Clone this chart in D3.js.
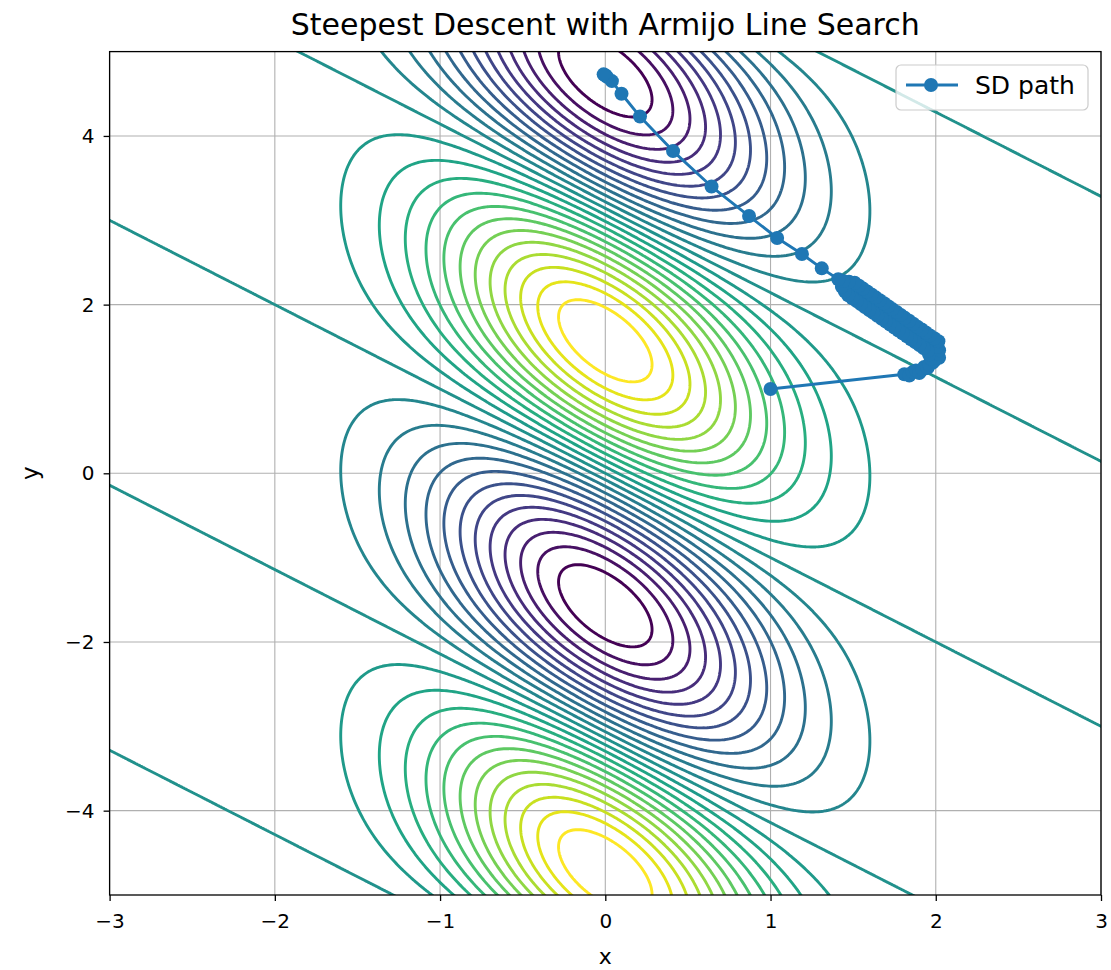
<!DOCTYPE html>
<html><head><meta charset="utf-8">
<script src="https://cdn.jsdelivr.net/npm/d3@7"></script>
<style>
body{margin:0;background:#fff}
svg{display:block}
text{font-family:"DejaVu Sans",sans-serif;fill:#000}
</style>
</head><body>
<svg id="chart" width="1111" height="970"></svg>
<script>
// ---------- data ----------
const titleText = "Steepest Descent with Armijo Line Search";
const xDomain = [-3, 3];
const yDomain = [-5, 5];
const xTicks = [-3, -2, -1, 0, 1, 2, 3];
const yTicks = [-4, -2, 0, 2, 4];
// contour levels of the objective f(x,y) = sin(x + y) * exp(-x^2)
const levels = [-0.923, -0.846, -0.769, -0.692, -0.615, -0.538, -0.462, -0.385, -0.308, -0.231, -0.154, -0.077,
  0, 0.077, 0.154, 0.231, 0.308, 0.385, 0.462, 0.538, 0.615, 0.692, 0.769, 0.846, 0.923];
const fieldAmplitude = 1.0;
const fieldGaussWidth = 1.0;
// steepest-descent iterates
const pathX = [1.00, 1.81, 1.84, 1.86, 1.88, 1.90, 1.93, 1.92, 1.95, 1.98, 1.96, 1.99, 2.02, 1.97, 2.01, 2.02, 1.96, 2.01,
  2.016, 1.951, 1.991, 1.926, 1.965, 1.901, 1.940, 1.875, 1.915, 1.850, 1.889, 1.825,
  1.864, 1.799, 1.839, 1.774, 1.813, 1.749, 1.788, 1.723, 1.763, 1.698, 1.737, 1.673,
  1.712, 1.647, 1.687, 1.622, 1.661, 1.597, 1.636, 1.571, 1.611, 1.546, 1.585, 1.521,
  1.560, 1.495, 1.535, 1.470, 1.509, 1.450, 1.475, 1.432, 1.440, 1.410,
  1.31, 1.19, 1.04, 0.87, 0.643, 0.41, 0.21, 0.098, 0.04, 0.01, 0.0, -0.01];
const pathY = [1.00, 1.175, 1.16, 1.20, 1.22, 1.19, 1.26, 1.23, 1.25, 1.31, 1.29, 1.33, 1.37, 1.36, 1.42, 1.46, 1.41, 1.50,
  1.566, 1.451, 1.601, 1.486, 1.635, 1.521, 1.670, 1.555, 1.705, 1.590, 1.739, 1.625,
  1.774, 1.659, 1.809, 1.694, 1.843, 1.729, 1.878, 1.763, 1.913, 1.798, 1.947, 1.833,
  1.982, 1.867, 2.017, 1.902, 2.051, 1.937, 2.086, 1.971, 2.121, 2.006, 2.155, 2.041,
  2.190, 2.075, 2.225, 2.110, 2.259, 2.158, 2.272, 2.212, 2.280, 2.300,
  2.43, 2.60, 2.79, 3.05, 3.40, 3.82, 4.23, 4.50, 4.65, 4.70, 4.72, 4.73];
const seriesName = "SD path";

// ---------- layout ----------
const svg = d3.select("#chart");
const L = 109.6, R = 1101, T = 51.6, B = 895;
const x = d3.scaleLinear().domain(xDomain).range([L, R]);
const y = d3.scaleLinear().domain(yDomain).range([B, T]);

svg.append("defs").append("clipPath").attr("id", "plotclip")
  .append("rect").attr("x", L).attr("y", T).attr("width", R - L).attr("height", B - T);

// grid
const grid = svg.append("g");
xTicks.forEach(t => grid.append("line").attr("x1", x(t)).attr("x2", x(t)).attr("y1", T).attr("y2", B)
  .attr("stroke", "#b0b0b0").attr("stroke-width", 1.1));
yTicks.forEach(t => grid.append("line").attr("y1", y(t)).attr("y2", y(t)).attr("x1", L).attr("x2", R)
  .attr("stroke", "#b0b0b0").attr("stroke-width", 1.1));

// ---------- contour field ----------
const f = (px, py) => fieldAmplitude * Math.sin(px + py) * Math.exp(-(px * px) / fieldGaussWidth);
const step = 0.015;
const gx0 = -3.06, gy0 = -5.06;
const nx = Math.round(6.12 / step) + 1, ny = Math.round(10.12 / step) + 1;
const values = new Float64Array(nx * ny);
for (let j = 0; j < ny; j++) {
  const yy = gy0 + j * step;
  for (let i = 0; i < nx; i++) values[j * nx + i] = f(gx0 + i * step, yy);
}
const contours = d3.contours().size([nx, ny]).thresholds(levels)(values);
const proj = d3.geoTransform({
  point: function (cx, cy) {
    this.stream.point(x(gx0 + (cx - 0.5) * step), y(gy0 + (cy - 0.5) * step));
  }
});
const gpath = d3.geoPath(proj);
const lmin = d3.min(levels), lmax = d3.max(levels);
const cg = svg.append("g").attr("clip-path", "url(#plotclip)");
cg.selectAll("path").data(contours).join("path")
  .attr("d", gpath)
  .attr("fill", "none")
  .attr("stroke", d => d3.interpolateViridis((d.value - lmin) / (lmax - lmin)))
  .attr("stroke-width", 2.9)
  .attr("stroke-linejoin", "round");

// ---------- path ----------
const pts = pathX.map((v, i) => [v, pathY[i]]);
const blue = "#1f77b4";
const pg = svg.append("g").attr("clip-path", "url(#plotclip)");
pg.append("path").attr("d", d3.line().x(d => x(d[0])).y(d => y(d[1]))(pts))
  .attr("fill", "none").attr("stroke", blue).attr("stroke-width", 2.9).attr("stroke-linejoin", "round");
pg.selectAll("circle").data(pts).join("circle")
  .attr("cx", d => x(d[0])).attr("cy", d => y(d[1])).attr("r", 7).attr("fill", blue);

// ---------- axes ----------
const fmt = d => String(d).replace("-", "\u2212");
const xa = svg.append("g").attr("transform", `translate(0,${B})`)
  .call(d3.axisBottom(x).tickValues(xTicks).tickFormat(fmt).tickSize(6).tickPadding(13));
const ya = svg.append("g").attr("transform", `translate(${L},0)`)
  .call(d3.axisLeft(y).tickValues(yTicks).tickFormat(fmt).tickSize(6).tickPadding(9));
[xa, ya].forEach(a => {
  a.select(".domain").remove();
  a.selectAll(".tick line").attr("stroke", "#000").attr("stroke-width", 1.3);
  a.selectAll(".tick text").attr("font-size", 20).attr("font-family", "DejaVu Sans").attr("fill", "#000");
});

// frame
svg.append("rect").attr("x", L).attr("y", T).attr("width", R - L).attr("height", B - T)
  .attr("fill", "none").attr("stroke", "#000").attr("stroke-width", 1.3);

// title & labels
svg.append("text").attr("x", (L + R) / 2).attr("y", 35).attr("text-anchor", "middle")
  .attr("font-size", 30).text(titleText);
svg.append("text").attr("x", (L + R) / 2).attr("y", 964).attr("text-anchor", "middle")
  .attr("font-size", 22).text("x");
svg.append("text").attr("transform", `translate(38,${(T + B) / 2}) rotate(-90)`).attr("text-anchor", "middle")
  .attr("font-size", 23).text("y");

// ---------- legend ----------
const lg = svg.append("g");
lg.append("rect").attr("x", 896).attr("y", 65).attr("width", 192).attr("height", 45).attr("rx", 5)
  .attr("fill", "#fff").attr("fill-opacity", 0.8).attr("stroke", "#cccccc").attr("stroke-width", 1.2);
lg.append("line").attr("x1", 906).attr("x2", 958).attr("y1", 85).attr("y2", 85)
  .attr("stroke", blue).attr("stroke-width", 2.9);
lg.append("circle").attr("cx", 931).attr("cy", 85).attr("r", 7).attr("fill", blue);
lg.append("text").attr("x", 975).attr("y", 94).attr("font-size", 25).text(seriesName);
</script>
</body></html>
